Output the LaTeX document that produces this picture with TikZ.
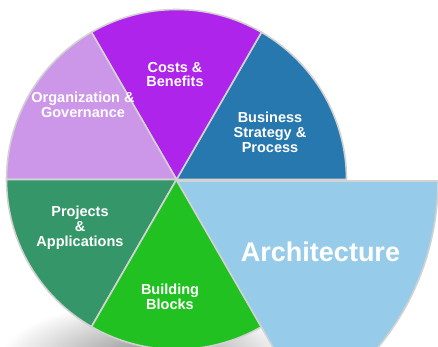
\documentclass[tikz,border=0pt]{standalone}
\usepackage{fontspec}
\setmainfont{Liberation Sans}
\definecolor{segline}{HTML}{D2D2D2}
\definecolor{bizc}{HTML}{2878B0}
\definecolor{costc}{HTML}{AF24EA}
\definecolor{orgc}{HTML}{CC97E8}
\definecolor{projc}{HTML}{359769}
\definecolor{buildc}{HTML}{22C122}
\definecolor{archc}{HTML}{96CCE9}
\begin{document}
\begin{tikzpicture}[x=1pt,y=1pt,
  seg/.style={draw=segline, line width=1.6pt, line join=round},
  lbl/.style={text=white, font=\bfseries\fontsize{14.5}{14.8}\selectfont, align=center, inner sep=0pt}]
\useasboundingbox (0,0) rectangle (438,347);
\clip (0,0) rectangle (438,347);
% shadow
\shade[inner color=black!45, outer color=white] (150,-12) ellipse (150 and 58);
\coordinate (c) at (176.5,167.5);
\coordinate (ca) at (177,166);
% segments
\draw[seg, fill=bizc] (c) -- ++(0:170) arc[start angle=0, end angle=60, radius=170] -- cycle;
\draw[seg, fill=costc] (c) -- ++(60:170) arc[start angle=60, end angle=120, radius=170] -- cycle;
\draw[seg, fill=orgc] (c) -- ++(120:170) arc[start angle=120, end angle=180, radius=170] -- cycle;
\draw[seg, fill=projc] (c) -- ++(180:170) arc[start angle=180, end angle=240, radius=170] -- cycle;
\draw[seg, fill=buildc] (c) -- ++(240:170) arc[start angle=240, end angle=300, radius=170] -- cycle;
\draw[seg, fill=archc] (ca) -- ++(-60:261) arc[start angle=-60, end angle=0, radius=261] -- cycle;
% labels
\node[lbl] (costs) at (175,272.5) {Costs \&\\Benefits};
\node[lbl] (org) at (83,242.5) {Organization \&\\Governance};
\node[lbl] (biz) at (270,214.5) {Business\\Strategy \&\\Process};
\node[lbl] (proj) at (80,119.5) {Projects\\\&\\Applications};
\node[lbl] (build) at (170,50) {Building\\Blocks};
\node[text=white, font=\bfseries\fontsize{27}{30}\selectfont, inner sep=0pt] (arch) at (320.5,95) {Architecture};
\end{tikzpicture}
\end{document}
